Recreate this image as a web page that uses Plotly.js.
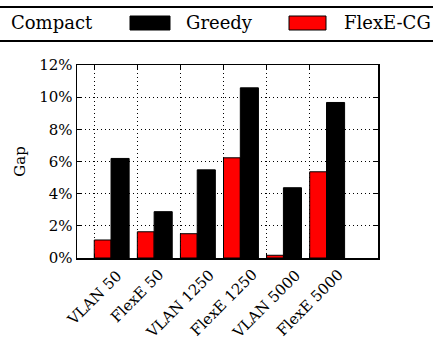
<!DOCTYPE html>
<html>
<head>
<meta charset="utf-8">
<script src="https://cdn.plot.ly/plotly-3.0.1.min.js"></script>
<style>
html,body{margin:0;padding:0;background:#fff;}
#chart{width:433px;height:338px;}
</style>
</head>
<body>
<div id="chart"></div>
<script>
// ---- data ----
const categories = ['VLAN 50', 'FlexE 50', 'VLAN 1250', 'FlexE 1250', 'VLAN 5000', 'FlexE 5000'];
const seriesNames = ['Compact', 'Greedy', 'FlexE-CG'];
const compactGap = [0, 0, 0, 0, 0, 0];
const greedyGap = [6.19, 2.88, 5.48, 10.58, 4.37, 9.67];
const flexeCGGap = [1.12, 1.63, 1.51, 6.23, 0.17, 5.36];
const yTickVals = [0, 2, 4, 6, 8, 10, 12];
const yTickText = ['0%', '2%', '4%', '6%', '8%', '10%', '12%'];

// ---- layout helpers (pixel geometry) ----
const W = 433, H = 338;
const M = {l: 77, r: 55, t: 65, b: 80};
const PW = W - M.l - M.r, PH = H - M.t - M.b;
const px = x => (x - M.l) / PW;          // pixel x -> paper
const py = y => (H - M.b - y) / PH;      // pixel y -> paper
const FONT = 'DejaVu Serif';

const xIdx = categories.map((c, i) => i);

const traces = [
  {type: 'bar', name: seriesNames[0], x: xIdx, y: compactGap, offset: -0.2, width: 0.2,
   marker: {color: '#ffffff', line: {color: '#000000', width: 0}}, showlegend: false},
  {type: 'bar', name: seriesNames[2], x: xIdx, y: flexeCGGap, offset: 0, width: 0.39,
   marker: {color: '#ff0000', line: {color: '#000000', width: 1}}, showlegend: false},
  {type: 'bar', name: seriesNames[1], x: xIdx, y: greedyGap, offset: 0.39, width: 0.42,
   marker: {color: '#000000', line: {color: '#000000', width: 1}}, showlegend: false}
];

const annotations = categories.map((c, i) => ({
  text: c, x: i, xref: 'x', y: 0, yref: 'paper', yshift: -7,
  xanchor: 'center', yanchor: 'top', textangle: -45, showarrow: false, borderpad: 0,
  font: {family: FONT, size: 15, color: '#000'}
}));

// manual legend
const legendItems = [
  {name: seriesNames[0], swatch: null, textX: 10},
  {name: seriesNames[1], swatch: {x0: 130, x1: 170, color: '#000000'}, textX: 185},
  {name: seriesNames[2], swatch: {x0: 289, x1: 326, color: '#ff0000'}, textX: 343}
];
const shapes = [
  {type: 'line', xref: 'paper', yref: 'paper', x0: -1, x1: 2, y0: py(7), y1: py(7), line: {color: '#000', width: 2}},
  {type: 'line', xref: 'paper', yref: 'paper', x0: -1, x1: 2, y0: py(41), y1: py(41), line: {color: '#000', width: 2}}
];
legendItems.forEach(it => {
  if (it.swatch) {
    shapes.push({type: 'rect', xref: 'paper', yref: 'paper', x0: px(it.swatch.x0), x1: px(it.swatch.x1),
      y0: py(30), y1: py(16), fillcolor: it.swatch.color, line: {color: '#000', width: 1}});
  }
  annotations.push({text: it.name, xref: 'paper', yref: 'paper', x: px(it.textX), y: py(23),
    xanchor: 'left', yanchor: 'middle', showarrow: false, borderpad: 0,
    font: {family: FONT, size: 18, color: '#000'}});
});

const layout = {
  width: W, height: H,
  margin: M,
  paper_bgcolor: '#fff', plot_bgcolor: '#fff',
  barmode: 'overlay',
  showlegend: false,
  font: {family: FONT, size: 15, color: '#000'},
  xaxis: {
    range: [-0.4, 6.585], tickvals: xIdx, ticktext: categories.map(() => ''),
    showgrid: true, gridcolor: '#000', griddash: '1px,3px', gridwidth: 1,
    ticks: 'inside', ticklen: 4, tickcolor: '#000', tickwidth: 1,
    showline: true, linecolor: '#000', linewidth: 1.5, mirror: 'allticks', zeroline: false
  },
  yaxis: {
    range: [0, 12], tickvals: yTickVals, ticktext: yTickText,
    showgrid: true, gridcolor: '#000', griddash: '1px,3px', gridwidth: 1,
    ticks: 'inside', ticklen: 4, tickcolor: '#000', tickwidth: 1,
    showline: true, linecolor: '#000', linewidth: 1.5, mirror: 'allticks', zeroline: false,
    tickfont: {family: FONT, size: 15, color: '#000'},
    title: {text: 'Gap', font: {family: FONT, size: 15, color: '#000'}, standoff: 10}
  },
  annotations: annotations,
  shapes: shapes
};

Plotly.newPlot('chart', traces, layout, {staticPlot: true, displayModeBar: false});
</script>
</body>
</html>
